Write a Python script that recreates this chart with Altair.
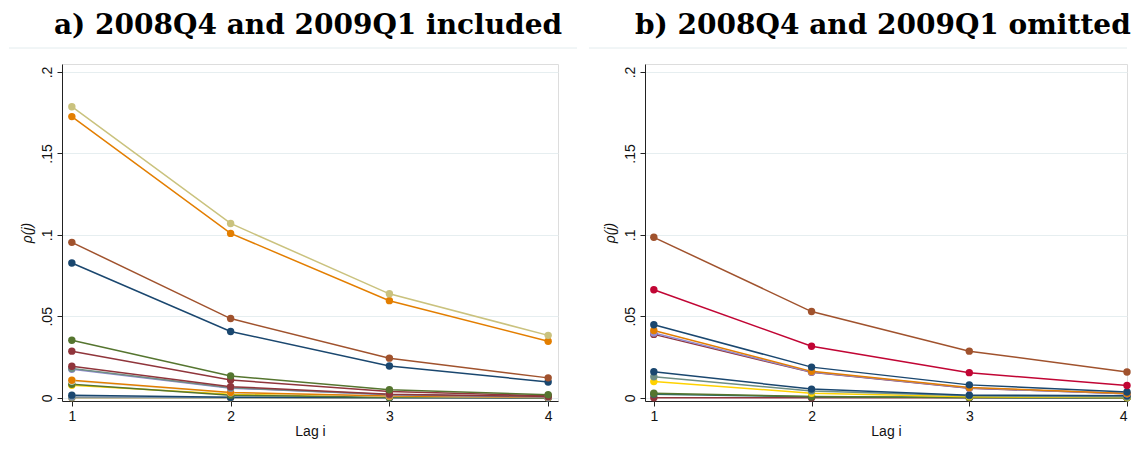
import altair as alt
import pandas as pd

lags = [1, 2, 3, 4]

# Stata s2color palette
NAVY = "#1a476f"; MAROON = "#90353b"; FGREEN = "#55752f"; DKORANGE = "#e37e00"
TEAL = "#6e8e84"; CRANBERRY = "#c10534"; LAVENDER = "#938dd2"; KHAKI = "#cac27e"
SIENNA = "#a0522d"; EMIDBLUE = "#7b92a8"; EMERALD = "#2d6d66"; BROWN = "#9c8847"
EROSE = "#bfa19c"; GOLD = "#ffd200"; BLUISHGRAY = "#d9e6eb"

# Panel a) 2008Q4 and 2009Q1 included
left_colors = [BROWN, EMIDBLUE, NAVY, GOLD, FGREEN, BLUISHGRAY, DKORANGE, LAVENDER,
               TEAL, MAROON, MAROON, FGREEN, NAVY, SIENNA, DKORANGE, KHAKI]
left_lag1 = [0.0000, 0.0005, 0.0016, 0.0077, 0.0083, 0.0103, 0.0107, 0.0175,
             0.0180, 0.0193, 0.0286, 0.0353, 0.0827, 0.0954, 0.1726, 0.1787]
left_lag2 = [0.0000, 0.0001, 0.0003, 0.0022, 0.0016, 0.0030, 0.0032, 0.0059,
             0.0062, 0.0068, 0.0109, 0.0134, 0.0407, 0.0486, 0.1009, 0.1070]
left_lag3 = [0.0000, 0.0000, 0.0001, 0.0006, 0.0003, 0.0009, 0.0010, 0.0019,
             0.0020, 0.0022, 0.0038, 0.0049, 0.0195, 0.0243, 0.0596, 0.0638]
left_lag4 = [0.0000, 0.0000, 0.0000, 0.0002, 0.0001, 0.0003, 0.0003, 0.0005,
             0.0006, 0.0008, 0.0012, 0.0018, 0.0097, 0.0122, 0.0347, 0.0383]

# Panel b) 2008Q4 and 2009Q1 omitted
right_colors = [MAROON, EMERALD, FGREEN, GOLD, TEAL, NAVY, MAROON, LAVENDER,
                DKORANGE, NAVY, CRANBERRY, SIENNA]
right_lag1 = [0.0000, 0.0022, 0.0028, 0.0099, 0.0129, 0.0160, 0.0389, 0.0397,
              0.0413, 0.0448, 0.0663, 0.0985]
right_lag2 = [0.0000, 0.0006, 0.0008, 0.0028, 0.0042, 0.0053, 0.0156, 0.0158,
              0.0162, 0.0188, 0.0316, 0.0529]
right_lag3 = [0.0000, 0.0001, 0.0002, 0.0006, 0.0012, 0.0016, 0.0059, 0.0060,
              0.0063, 0.0079, 0.0154, 0.0286]
right_lag4 = [0.0000, 0.0000, 0.0000, 0.0001, 0.0004, 0.0012, 0.0024, 0.0025,
              0.0026, 0.0035, 0.0075, 0.0158]

y_ticks = [0, 0.05, 0.1, 0.15, 0.2]
title_a = "a) 2008Q4 and 2009Q1 included"
title_b = "b) 2008Q4 and 2009Q1 omitted"


def make_df(cols, l1, l2, l3, l4):
    rows = []
    for i in range(len(cols)):
        for lag, v in zip(lags, [l1[i], l2[i], l3[i], l4[i]]):
            rows.append({"series": f"s{i:02d}", "lag": lag, "rho": v})
    return pd.DataFrame(rows)


AX_FONT = "Liberation Sans"
PLOT_H = 337


def panel(df, cols, title, width, xdom, frame_x1, frame_x2, title_anchor, title_dx):
    names = [f"s{i:02d}" for i in range(len(cols))]
    x = alt.X("lag:Q",
              scale=alt.Scale(domain=xdom, nice=False, zero=False),
              axis=alt.Axis(values=lags, title="Lag i", grid=False, format="d",
                            labelFontSize=14, titleFontSize=14, titleFontWeight="normal",
                            labelPadding=3, titlePadding=1, tickSize=5,
                            domainColor="#222", tickColor="#222",
                            labelColor="#111", titleColor="#111",
                            labelFont=AX_FONT, titleFont=AX_FONT))
    y = alt.Y("rho:Q",
              scale=alt.Scale(domain=[-0.002, 0.2049], nice=False, zero=False),
              axis=alt.Axis(values=y_ticks, title="ρ(j)", grid=True,
                            gridColor="#e6eef0", gridWidth=1.2,
                            labelExpr="replace(format(datum.value, '.2~f'), '0.', '.')",
                            labelAngle=270, labelAlign="center", labelBaseline="bottom",
                            labelFontSize=14, titleFontSize=14, titleFontStyle="italic",
                            titleFontWeight="normal", labelPadding=3, titlePadding=6,
                            tickSize=5, domainColor="#222", tickColor="#222",
                            labelColor="#111", titleColor="#111",
                            labelFont=AX_FONT, titleFont=AX_FONT))
    color = alt.Color("series:N", scale=alt.Scale(domain=names, range=cols), legend=None)
    base = alt.Chart(df).encode(x=x, y=y, color=color)
    lines = base.mark_line(strokeWidth=1.5).encode(order=alt.Order("lag:Q"))
    pts = base.mark_circle(size=55, opacity=1)
    frame = alt.Chart(alt.Data(values=[{"a": 1}])).mark_rule(
        color="#e3ecee", strokeWidth=1).encode(
        x=alt.value(frame_x1), x2=alt.value(frame_x2), y=alt.value(-16))
    return alt.layer(frame, lines, pts).properties(
        width=width, height=PLOT_H,
        title=alt.TitleParams(title, font="DejaVu Serif", fontSize=28,
                              fontWeight="bold", anchor=title_anchor, offset=8,
                              dx=title_dx, color="#000"))


left = panel(make_df(left_colors, left_lag1, left_lag2, left_lag3, left_lag4),
             left_colors, title_a, 496, [0.938, 4.062], -53, 515, "middle", -2)
right = panel(make_df(right_colors, right_lag1, right_lag2, right_lag3, right_lag4),
              right_colors, title_b, 482, [0.944, 4.0], -56, 482, "end", 0)

chart = alt.hconcat(left, right, spacing=10).resolve_scale(
    color="independent"
).properties(
    padding={"left": 0, "top": 3, "right": 0, "bottom": 0}
).configure_view(stroke=None).configure(background="white")

chart.save("out.html", embed_options={"renderer": "svg", "actions": False})
